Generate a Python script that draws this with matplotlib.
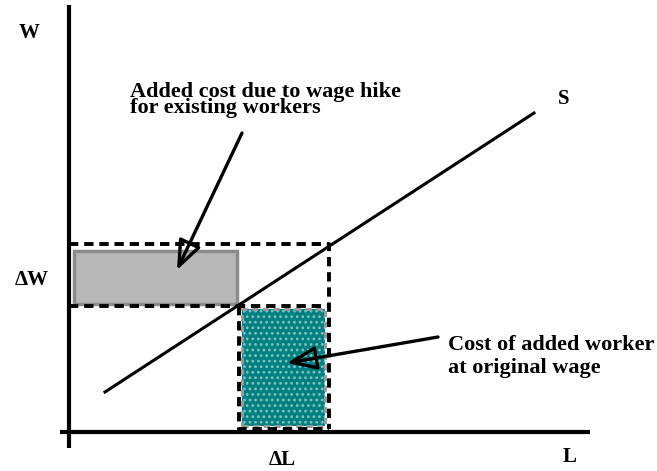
import matplotlib
matplotlib.use("Agg")
import matplotlib.pyplot as plt
from matplotlib.patches import Rectangle, FancyArrowPatch

# ---- data (diagram units: L to the right of origin, W above origin) ----
supply_L = [36, 465]
supply_W = [40, 319]
L0, L1 = 170, 260          # original employment, after adding workers
W0, W1 = 126, 188          # original wage, raised wage
axis_L = [-9, 521]
axis_W = [-16, 427]
gray_box = dict(L=[5, 168], W=[128, 181])
teal_box = dict(L=[173, 256], W=[6, 123])
labels = {"W": (-40, 399), "ΔW": (-37, 152), "ΔL": (213, -28), "L": (501, -25), "S": (495, 333)}
note1 = "Added cost due to wage hike\nfor existing workers"
note1_pos = (61, 319)
arrow1 = [(173, 299), (108, 162)]
note2 = "Cost of added worker\nat original wage"
note2_pos = (379, 59)
arrow2 = [(369, 95), (218, 69)]

fig = plt.figure(figsize=(6.57, 4.71), dpi=100)
ax = fig.add_axes([0, 0, 1, 1])
ax.set_xlim(-69, 588)
ax.set_ylim(-39, 432)
ax.axis("off")

font = dict(family="Liberation Serif", weight="bold", color="black")

# axes
ax.plot([0, 0], axis_W, color="black", lw=3, solid_capstyle="butt")
ax.plot(axis_L, [0, 0], color="black", lw=3, solid_capstyle="butt")

# gray rectangle
ax.add_patch(Rectangle((gray_box["L"][0], gray_box["W"][0]),
                       gray_box["L"][1] - gray_box["L"][0], gray_box["W"][1] - gray_box["W"][0],
                       facecolor="#b8b8b8", edgecolor="#8c8c8c", lw=2.5, zorder=2))

# teal dotted rectangle
matplotlib.rcParams["hatch.linewidth"] = 1.2
tx, ty = teal_box["L"][0], teal_box["W"][0]
tw, th = teal_box["L"][1] - teal_box["L"][0], teal_box["W"][1] - teal_box["W"][0]
ax.add_patch(Rectangle((tx, ty), tw, th, facecolor="#008080", edgecolor="#7fc4c4",
                       hatch="...", lw=0, zorder=2))
ax.add_patch(Rectangle((tx, ty), tw, th, facecolor="none", edgecolor="#9a9a9a", lw=2.2,
                       linestyle=(0, (2, 1.5)), zorder=3))

# dashed rectangles
dash = dict(color="black", lw=2.8, linestyle=(0, (2.4, 1.5)), zorder=4)
ax.plot([0, L1, L1], [W1, W1, 3], **dash)
ax.plot([0, L1], [W0, W0], **dash)
ax.plot([L0, L0, L1], [W0, 3, 3], **dash)

# supply curve
ax.plot(supply_L, supply_W, color="black", lw=2.2, zorder=5)

# labels
for txt, (x, y) in labels.items():
    ax.text(x, y, txt, fontsize=15, ha="center", va="center", **font)

ax.text(*note1_pos, note1, fontsize=16, ha="left", va="baseline", linespacing=0.72, **font)
ax.text(*note2_pos, note2, fontsize=16, ha="left", va="baseline", linespacing=1.22, **font)

for (a, b) in (arrow1, arrow2):
    ax.add_patch(FancyArrowPatch(a, b, arrowstyle="-|>,head_length=0.9,head_width=0.36",
                                 mutation_scale=20, lw=2.4, edgecolor="black", facecolor="none",
                                 shrinkA=0, shrinkB=0, zorder=6))

fig.savefig("out.png", dpi=100)
